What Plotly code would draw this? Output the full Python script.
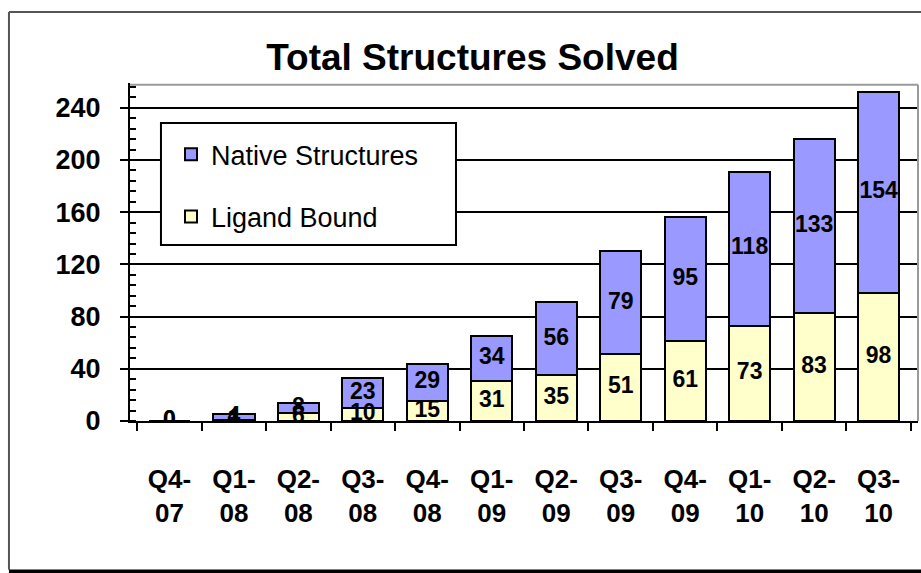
import plotly.graph_objects as go

categories = ["Q4-<br>07", "Q1-<br>08", "Q2-<br>08", "Q3-<br>08", "Q4-<br>08", "Q1-<br>09",
              "Q2-<br>09", "Q3-<br>09", "Q4-<br>09", "Q1-<br>10", "Q2-<br>10", "Q3-<br>10"]
ligand_bound = [0, 1, 6, 10, 15, 31, 35, 51, 61, 73, 83, 98]
native_structures = [0, 4, 8, 23, 29, 34, 56, 79, 95, 118, 133, 154]
y_ticks = [0, 40, 80, 120, 160, 200, 240]

FONT = "Liberation Sans, Arial, sans-serif"
NATIVE_COLOR = "#9999FF"
LIGAND_COLOR = "#FFFFCC"

fig = go.Figure()
fig.add_trace(go.Bar(x=categories, y=ligand_bound, name="Ligand Bound",
                     marker=dict(color=LIGAND_COLOR, line=dict(color="black", width=2)),
                     width=0.64, legendgroup="lig", legendrank=2))
fig.add_trace(go.Bar(x=categories, y=native_structures, name="Native Structures",
                     marker=dict(color=NATIVE_COLOR, line=dict(color="black", width=2)),
                     width=0.64, legendgroup="nat", legendrank=1))

lig_mid = [v / 2 for v in ligand_bound]
nat_mid = [l + n / 2 for l, n in zip(ligand_bound, native_structures)]
fig.add_trace(go.Scatter(x=categories, y=lig_mid, mode="text",
                         text=[str(v) for v in ligand_bound], showlegend=False,
                         textfont=dict(family=FONT, size=23, color="black", weight="bold"),
                         hoverinfo="skip"))
fig.add_trace(go.Scatter(x=categories, y=nat_mid, mode="text",
                         text=[str(v) for v in native_structures], showlegend=False,
                         textfont=dict(family=FONT, size=23, color="black", weight="bold"),
                         hoverinfo="skip"))

fig.update_layout(
    barmode="stack",
    width=921, height=573,
    margin=dict(l=130, r=3, t=83, b=152),
    paper_bgcolor="white", plot_bgcolor="white",
    title=dict(text="Total Structures Solved", x=0.513, xanchor="center", y=0.9, yanchor="middle",
               font=dict(family=FONT, size=37, color="black", weight="bold")),
    legend=dict(x=0.052, y=0.86, xanchor="left", yanchor="top",
                traceorder="grouped", bgcolor="rgba(0,0,0,0)", borderwidth=0,
                font=dict(family=FONT, size=27, color="black"),
                tracegroupgap=24, itemwidth=30),
    showlegend=True,
)

fig.update_xaxes(
    showline=True, linecolor="black", linewidth=2,
    ticks="outside", ticklen=8, tickwidth=2, tickcolor="black",
    tickson="boundaries",
    tickfont=dict(family=FONT, size=26, color="black", weight="bold"),
    ticklabelstandoff=34,
    showgrid=False,
)
fig.update_yaxes(
    range=[0, 259],
    tickvals=y_ticks,
    showline=True, linecolor="black", linewidth=2,
    ticks="outside", ticklen=8, tickwidth=2, tickcolor="black",
    tickfont=dict(family=FONT, size=27, color="black", weight="bold"),
    ticklabelstandoff=14,
    showgrid=True, gridcolor="black", gridwidth=2,
    minor=dict(dtick=8, ticks="inside", ticklen=6, tickwidth=2, tickcolor="black", showgrid=False),
    zeroline=False,
)

# plot area border (top and right, thin gray)
fig.add_shape(type="line", xref="paper", yref="paper", x0=0, x1=1, y0=0.995, y1=0.995,
              line=dict(color="#9a9a9a", width=2))
fig.add_shape(type="line", xref="paper", yref="paper", x0=1, x1=1, y0=0, y1=0.995,
              line=dict(color="#9a9a9a", width=2))
# legend box
fig.add_shape(type="rect", xref="paper", yref="paper", x0=0.0393, x1=0.4137, y0=0.5207, y1=0.8817,
              fillcolor="white", line=dict(color="black", width=2), layer="above")
# outer chart frame
fig.add_shape(type="line", xref="paper", yref="paper", x0=-0.1536, x1=-0.1536, y0=-0.44, y1=1.21,
              line=dict(color="#555555", width=2))
fig.add_shape(type="line", xref="paper", yref="paper", x0=-0.1536, x1=1.01, y0=1.21, y1=1.21,
              line=dict(color="#555555", width=2))
fig.add_shape(type="line", xref="paper", yref="paper", x0=-0.1536, x1=1.01, y0=-0.447, y1=-0.447,
              line=dict(color="black", width=5))

fig.write_html("out.html")
